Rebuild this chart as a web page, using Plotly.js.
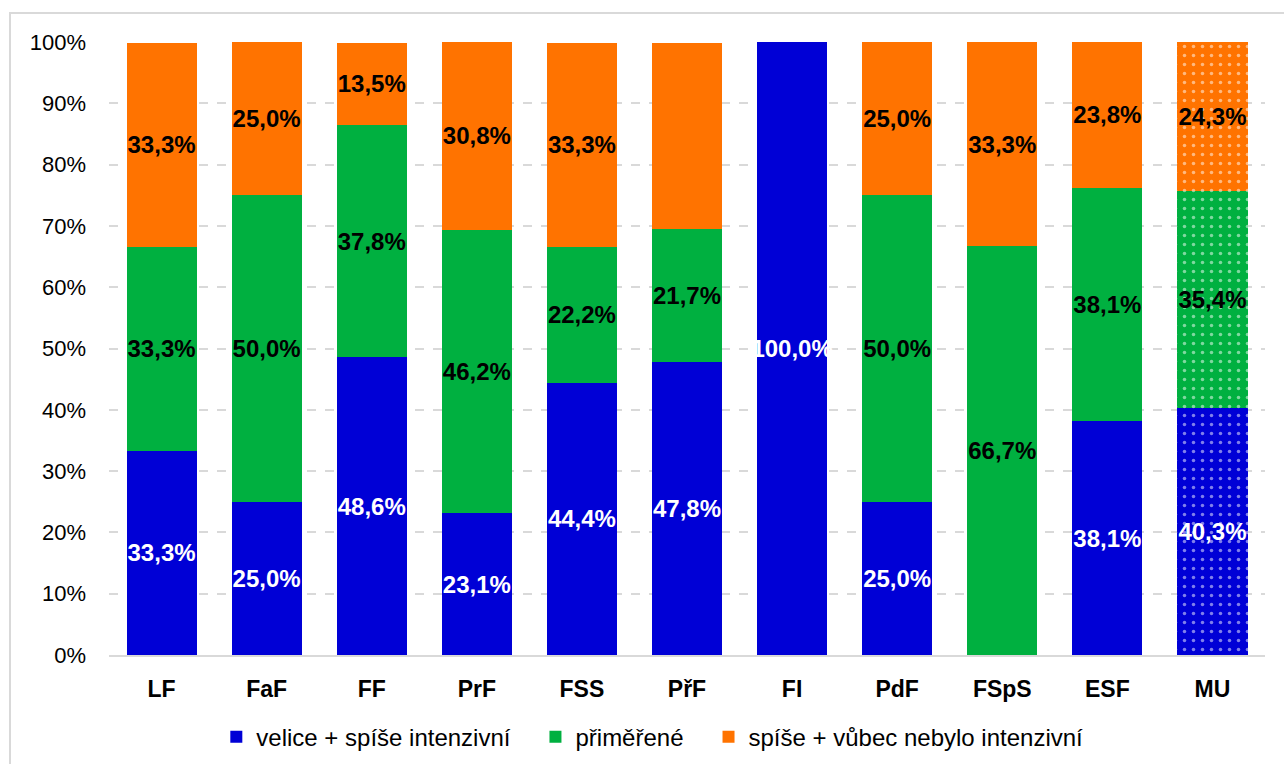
<!DOCTYPE html>
<html><head><meta charset="utf-8">
<script src="https://cdn.plot.ly/plotly-3.0.1.min.js"></script>
<style>
html,body{margin:0;padding:0;background:#fff;}
#chart{width:1284px;height:764px;position:relative;}
#frame{position:absolute;left:9px;top:12px;width:1300px;height:800px;border:2px solid #d9d9d9;pointer-events:none;box-sizing:border-box;}
</style></head>
<body>
<div id="chart"></div>
<div id="frame"></div>
<script>
const categories = ["LF","FaF","FF","PrF","FSS","PřF","FI","PdF","FSpS","ESF","MU"];
const seriesNames = ["velice + spíše intenzivní","přiměřené","spíše + vůbec nebylo intenzivní"];
const intenzivni = [33.3,25.0,48.6,23.1,44.4,47.8,100.0,25.0,0,38.1,40.3];
const primerene = [33.3,50.0,37.8,46.2,22.2,21.7,0,50.0,66.7,38.1,35.4];
const nebylo = [33.3,25.0,13.5,30.8,33.3,30.4,0,25.0,33.3,23.8,24.3];
const hiddenLabels = {2:["PřF"]};
const colors = ["#0000d6","#00b040","#ff7300"];
const textColors = ["#ffffff","#000000","#000000"];
const allSeries = [intenzivni, primerene, nebylo];

function fmt(v){return v.toFixed(1).replace('.',',')+'%';}
const pad = '\u00a0\u00a0\u00a0';

const traces = allSeries.map((vals,i)=>({
  type:'bar',
  name:seriesNames[i] + (i<2 ? pad : ''),
  x:categories,
  y:vals,
  text:vals.map((v,j)=>{
    if(v===0) return '';
    if(hiddenLabels[i] && hiddenLabels[i].includes(categories[j])) return '';
    return fmt(v);
  }),
  textposition:'inside',
  insidetextanchor:'middle',
  constraintext:'none',
  textangle:0,
  textfont:{family:'Liberation Sans, Arial, sans-serif',size:24,color:textColors[i],weight:'bold'},
  hoverinfo:'skip',
  marker:{
    color:colors[i],
    line:{width:0},
    pattern:{
      shape:categories.map(c=>c==='MU'?'.':''),
      fgcolor:'#ffffff',
      bgcolor:colors[i],
      size:9,
      solidity:0.12,
      fillmode:'overlay'
    }
  }
}));

const layout = {
  width:1284,height:764,
  barmode:'stack',
  bargap:0.333,
  separators:', ',
  paper_bgcolor:'rgba(0,0,0,0)',
  plot_bgcolor:'rgba(0,0,0,0)',
  margin:{l:109,r:19,t:42,b:109,autoexpand:false},
  font:{family:'Liberation Sans, Arial, sans-serif',size:22,color:'#000'},
  showlegend:true,
  legend:{orientation:'h',x:0.47,xanchor:'center',y:-0.134,yanchor:'middle',
    font:{size:24,color:'#000'},itemclick:false,traceorder:'normal',itemwidth:30},
  xaxis:{
    type:'category',
    showline:true,linecolor:'#d9d9d9',linewidth:2,
    showgrid:false,ticks:'',
    tickfont:{size:23,weight:'bold',color:'#000'},
    ticklabelstandoff:12
  },
  yaxis:{
    range:[0,100],dtick:10,ticksuffix:'%',
    showgrid:true,gridcolor:'#d9d9d9',gridwidth:2,griddash:'dash',
    zeroline:false,showline:false,ticks:'',
    tickfont:{size:22,color:'#000'},
    ticklabelstandoff:22
  }
};
Plotly.newPlot('chart',traces,layout,{staticPlot:true});
</script>
</body></html>
